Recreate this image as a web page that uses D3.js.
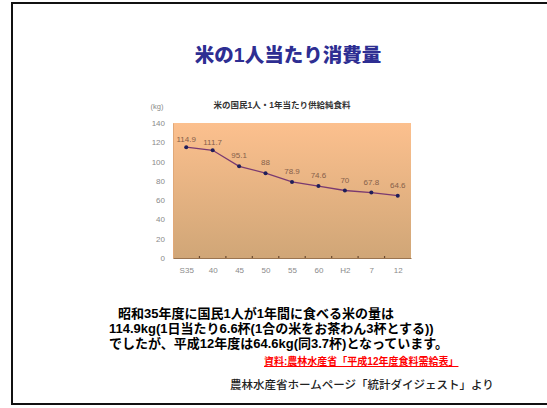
<!DOCTYPE html>
<html><head><meta charset="utf-8">
<script src="https://cdn.jsdelivr.net/npm/d3@7"></script>
<style>
html,body{margin:0;padding:0;background:#fff;}
svg{display:block;}
text{font-family:"Liberation Sans","Noto Sans CJK JP",sans-serif;}
</style></head>
<body><svg id="c" width="547" height="408"></svg>
<script>
// Per-capita annual rice supply (kg), fiscal years Showa 35 – Heisei 12
const years = ["S35","40","45","50","55","60","H2","7","12"];
const riceKg = [114.9, 111.7, 95.1, 88, 78.9, 74.6, 70, 67.8, 64.6];
const valueLabels = ["114.9","111.7","95.1","88","78.9","74.6","70","67.8","64.6"];
const yTicks = [0,20,40,60,80,100,120,140];

const title = "米の1人当たり消費量";
const chartTitle = "米の国民1人・1年当たり供給純食料";
const unit = "(kg)";
const bodyLines = [
  "昭和35年度に国民1人が1年間に食べる米の量は",
  "114.9kg(1日当たり6.6杯(1合の米をお茶わん3杯とする))",
  "でしたが、平成12年度は64.6kg(同3.7杯)となっています。"
];
const sourceNote = "資料:農林水産省「平成12年度食料需給表」";
const credit = "農林水産省ホームページ「統計ダイジェスト」より";

const svg = d3.select("#c");

// slide frame
svg.append("rect").attr("x",12).attr("y",3).attr("width",560).attr("height",401)
  .attr("fill","none").attr("stroke","#111").attr("stroke-width",2);

svg.append("text").attr("x",288).attr("y",62).attr("text-anchor","middle")
  .attr("font-size",19.5).attr("font-weight",900).attr("fill","#2e2e92").text(title);

// chart geometry
const plot = {left:173, right:411, top:123, bottom:258};
const x = d3.scalePoint().domain(years).range([plot.left, plot.right]).padding(0.5);
const xBand = d3.scaleBand().domain(years).range([plot.left, plot.right]);
const y = d3.scaleLinear().domain([0,140]).range([plot.bottom, plot.top]);

const defs = svg.append("defs");
const grad = defs.append("linearGradient").attr("id","bg").attr("x1",0).attr("y1",0).attr("x2",0).attr("y2",1);
grad.append("stop").attr("offset","0%").attr("stop-color","#fcc08e");
grad.append("stop").attr("offset","100%").attr("stop-color","#d0a677");

svg.append("rect").attr("x",plot.left).attr("y",plot.top)
  .attr("width",plot.right-plot.left).attr("height",plot.bottom-plot.top)
  .attr("fill","url(#bg)");

svg.append("text").attr("x",282).attr("y",108).attr("text-anchor","middle")
  .attr("font-size",8.5).attr("font-weight",700).attr("fill","#333").text(chartTitle);
svg.append("text").attr("x",157).attr("y",109).attr("text-anchor","middle")
  .attr("font-size",7.5).attr("fill","#888").text(unit);

// y axis
const yAxis = svg.append("g").attr("transform",`translate(${plot.left},0)`)
  .call(d3.axisLeft(y).tickValues(yTicks).tickSize(0).tickPadding(8));
yAxis.select(".domain").attr("stroke","#e0a878");
yAxis.selectAll("text").attr("font-size",8).attr("fill","#8a8a8a");

// x axis with ticks at category boundaries
const xAxis = svg.append("g").attr("transform",`translate(0,${plot.bottom})`)
  .call(d3.axisBottom(x).tickSize(0).tickPadding(9));
xAxis.select(".domain").attr("stroke","#9a7450");
xAxis.selectAll("text").attr("font-size",8).attr("fill","#8a8a8a");
xAxis.selectAll(".bnd").data(years.slice(1)).join("line").attr("class","bnd")
  .attr("x1",d=>xBand(d)).attr("x2",d=>xBand(d)).attr("y1",0).attr("y2",-2)
  .attr("stroke","#6a4a30").attr("stroke-width",1.2);

// line + markers
const line = d3.line().x((d,i)=>x(years[i])).y(d=>y(d));
svg.append("path").datum(riceKg).attr("d",line).attr("fill","none")
  .attr("stroke","#7a3a70").attr("stroke-width",1.3);
svg.selectAll(".pt").data(riceKg).join("circle").attr("class","pt")
  .attr("cx",(d,i)=>x(years[i])).attr("cy",d=>y(d)).attr("r",2)
  .attr("fill","#1e1e5a");
svg.selectAll(".vl").data(riceKg).join("text").attr("class","vl")
  .attr("x",(d,i)=>x(years[i])).attr("y",(d,i)=>y(d)-(i<2?5:8))
  .attr("text-anchor","middle").attr("font-size",8).attr("fill","#86604a")
  .text((d,i)=>valueLabels[i]);

// explanatory text
const bx = [118,109,109];
bodyLines.forEach((t,i)=>{
  svg.append("text").attr("x",bx[i]).attr("y",318+i*15)
    .attr("font-size",13).attr("font-weight",700).attr("fill","#000").text(t);
});
svg.append("text").attr("x",264).attr("y",365).attr("font-size",10)
  .attr("font-weight",700).attr("fill","#f00").attr("text-decoration","underline").text(sourceNote);
svg.append("text").attr("x",230).attr("y",389).attr("font-size",11.5)
  .attr("font-weight",500).attr("fill","#222").text(credit);
</script></body></html>
